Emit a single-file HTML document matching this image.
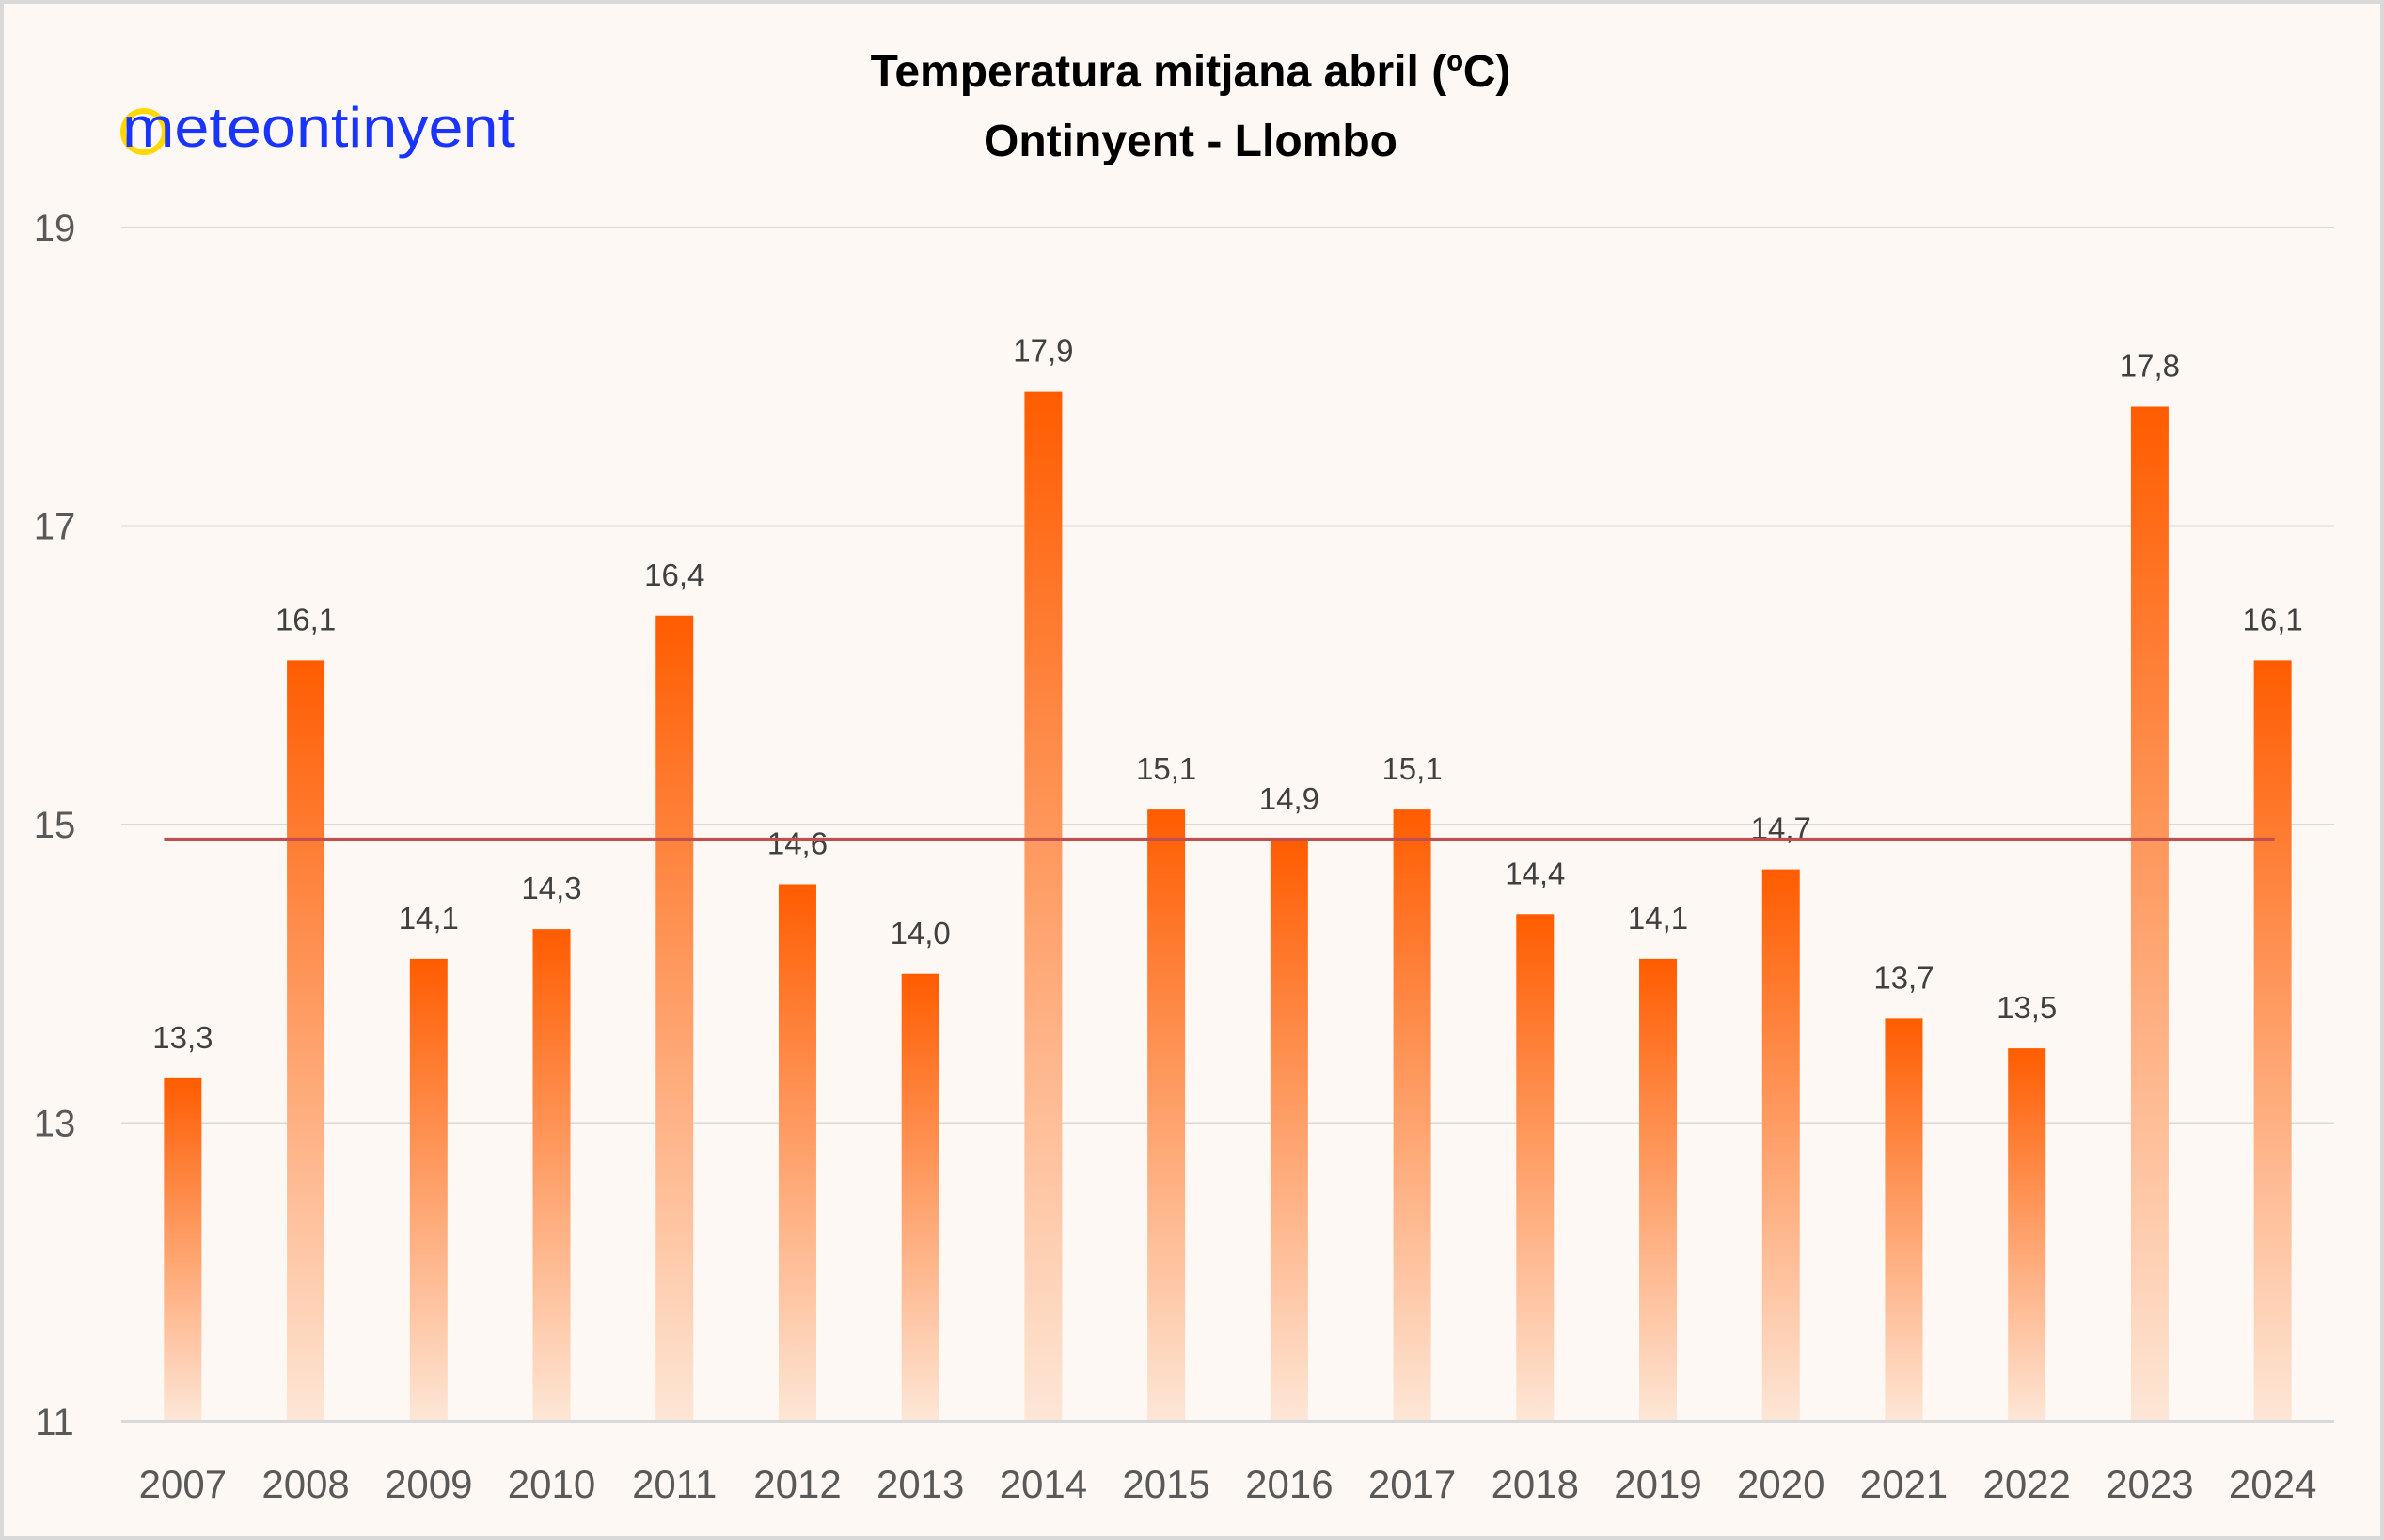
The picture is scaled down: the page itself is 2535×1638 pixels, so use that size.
<!DOCTYPE html>
<html><head><meta charset="utf-8"><style>
html,body{margin:0;padding:0;background:#fff}
svg{display:block}
text{font-family:"Liberation Sans",sans-serif}
</style></head><body>
<svg id="chart" width="2535" height="1638" viewBox="0 0 2535 1638">
<defs><linearGradient id="g" x1="0" y1="0" x2="0" y2="1"><stop offset="0" stop-color="#ff5c00"/><stop offset="1" stop-color="#fde6d6"/></linearGradient></defs>
<rect x="2" y="2" width="2531" height="1634" fill="#fdf8f4" stroke="#d9d9d9" stroke-width="4"/>
<text x="1266" y="92" text-anchor="middle" font-size="48" font-weight="bold" fill="#000">Temperatura mitjana abril (ºC)</text>
<text x="1266" y="166" text-anchor="middle" font-size="48" font-weight="bold" fill="#000">Ontinyent - Llombo</text>
<g>
<circle cx="153" cy="140" r="22" fill="none" stroke="#ffd800" stroke-width="6"/>
<text x="130" y="156" font-size="60" fill="#1a34ff" textLength="418" lengthAdjust="spacingAndGlyphs">meteontinyent</text>
</g>
<g id="grid"></g><g id="bars"></g><g id="labels"></g>
</svg>
<script>
const categories=["2007","2008","2009","2010","2011","2012","2013","2014","2015","2016","2017","2018","2019","2020","2021","2022","2023","2024"];
const values=[13.3,16.1,14.1,14.3,16.4,14.6,14.0,17.9,15.1,14.9,15.1,14.4,14.1,14.7,13.7,13.5,17.8,16.1];
const yTicks=[11,13,15,17,19];
const average=[14.9];
const NS="http://www.w3.org/2000/svg";
const L=129,R=2482,T=242,B=1512,ymin=11,ymax=19;
const y=v=>B-(v-ymin)/(ymax-ymin)*(B-T);
const bw=(R-L)/categories.length;
const x=i=>L+bw*(i+0.5);
function mk(tag,attrs,parent){const e=document.createElementNS(NS,tag);for(const k in attrs)e.setAttribute(k,attrs[k]);parent.appendChild(e);return e;}
const grid=document.getElementById('grid'),bars=document.getElementById('bars'),labels=document.getElementById('labels');
yTicks.forEach(t=>{
  const l=mk('line',{x1:L,x2:R,y1:y(t),y2:y(t),stroke:'#d9d9d9','stroke-width':t===ymin?4:2},grid);
  
  
  const tx=mk('text',{x:58,y:y(t)+14,'text-anchor':'middle','font-size':40,fill:'#595959'},grid);
  tx.textContent=t;
  
  
});
categories.forEach((c,i)=>{
  const v=values[i];
  const r=mk('rect',{x:x(i)-20,y:y(v),width:40,height:B-y(v)-2,fill:'url(#g)'},bars);
  
  
  const vl=mk('text',{x:x(i),y:y(v)-32,'text-anchor':'middle','font-size':33,fill:'#404040'},labels);
  vl.textContent=v.toFixed(1).replace('.',',');
  
  
  const xl=mk('text',{x:x(i),y:1593,'text-anchor':'middle','font-size':42,fill:'#595959'},labels);
  xl.textContent=c;
  
  
});
const al=mk('line',{x1:x(0)-20,x2:x(categories.length-1)+2,y1:y(average[0]),y2:y(average[0]),stroke:'#c0504d','stroke-width':4},labels);


</script>
</body></html>
